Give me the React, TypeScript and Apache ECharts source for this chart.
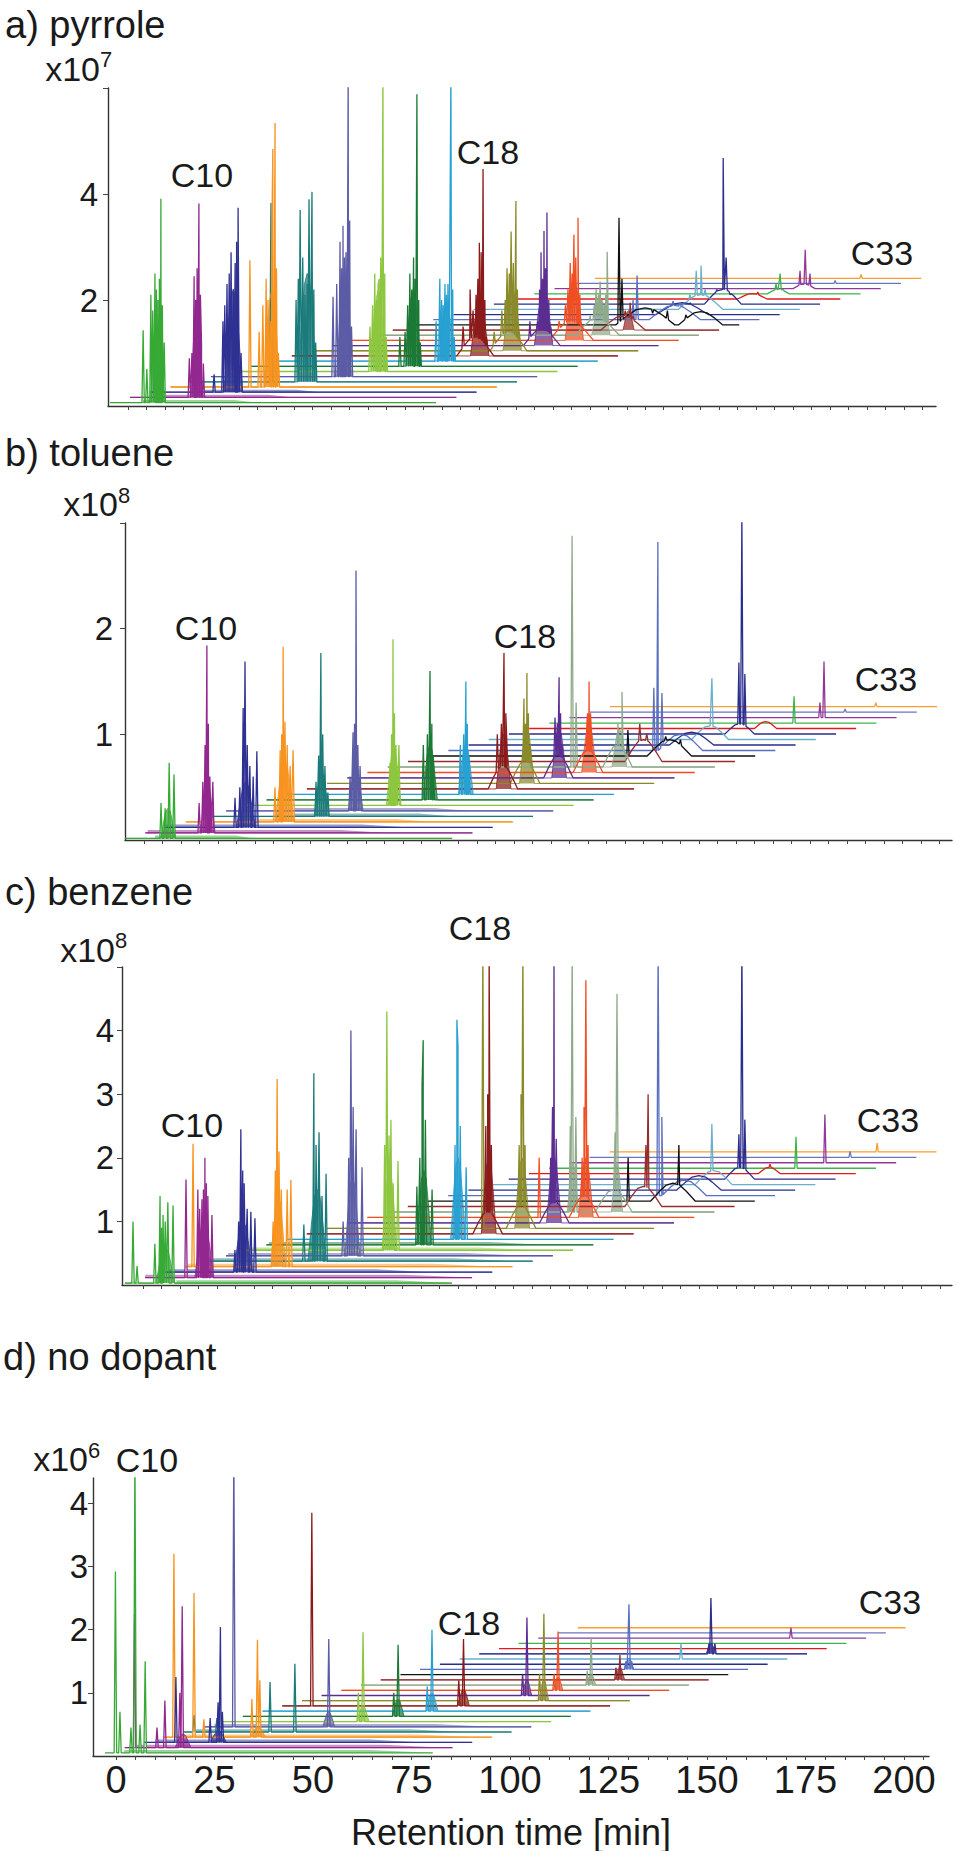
import React, { useEffect, useRef } from "react";
import * as echarts from "echarts";

// ---------- data ----------
const CARBON_LABELS = ["C9","C10","C11","C12","C13","C14","C15","C16","C17","C18","C19","C20","C21","C22","C23","C24","C25","C26","C27","C28","C29","C30","C31","C32","C33"];

const TRACE_COLORS = [
  "#37a935", "#92278f", "#2e3192", "#f7931e", "#1b7a7a", "#5b5ba6", "#8dc63f", "#1a7a35",
  "#27a0d2", "#8b1a1a", "#8a8a2a", "#5c2d91", "#f04e23", "#8faa8a", "#962d2d", "#111111",
  "#5a6fc0", "#262f8a", "#6ab0cc", "#2b2e8c", "#e31a1c", "#3cb54a", "#93379a", "#6c75c0", "#f7a030",
];

// waterfall offsets: [first trace start, start step, trace length, first baseline, baseline step]
const OFFSETS_A = [-4.9, 5.47, 88.3, 0.065, 0.0977];
const OFFSETS_B = [-5.1, 5.46, 88.4, 0.015, 0.052];
const OFFSETS_C = [-4.86, 5.45, 88.2, 0.03, 0.086];
const OFFSETS_D = [-2.8, 5.0, 83.2, 0.05, 0.0825];

// peaks: [trace index, retention time, peak top]
const PEAKS_A = [
  [0,4.1,1.43],[0,5.1,0.7],[0,6.2,2.1],[0,6.7,1.8],[0,7.3,2.5],[0,7.7,2.2],[0,8.1,2.0],[0,8.5,2.4],[0,8.9,3.91],[0,9.3,1.9],[0,9.8,1.2],
  [1,16.6,0.9],[1,17.3,1.0],[1,17.9,2.45],[1,18.3,2.0],[1,18.7,2.6],[1,19.2,3.82],[1,19.6,2.1],[1,19.9,1.2],[1,20.4,0.8],
  [2,23.3,0.6],[2,25.7,1.6],[2,26.2,1.9],[2,26.8,2.3],[2,27.4,2.5],[2,27.9,2.9],[2,28.5,2.2],[2,29.0,2.7],[2,29.4,3.1],[2,29.8,3.74],[2,30.6,1.0],
  [3,33.0,2.75],[3,35.5,1.4],[3,36.5,1.9],[3,37.4,2.4],[3,37.9,2.0],[3,38.5,1.6],[3,38.9,3.0],[3,39.2,4.85],[3,39.8,5.34],[3,40.2,2.6],[3,40.7,1.0],
  [4,38.7,3.83],[4,45.5,2.0],[4,46.1,2.4],[4,46.6,3.7],[4,47.3,2.8],[4,47.9,2.1],[4,48.5,2.3],[4,49.0,3.9],[4,49.8,4.04],[4,50.3,2.2],[4,50.8,1.2],
  [5,55.5,2.06],[5,56.5,2.3],[5,57.4,3.1],[5,57.8,2.6],[5,58.2,3.4],[5,58.6,2.8],[5,59.0,2.9],[5,59.6,6.3],[5,60.0,3.5],[5,60.5,1.5],
  [6,65.5,1.5],[6,66.2,1.9],[6,66.8,2.5],[6,67.3,2.0],[6,67.7,2.3],[6,68.0,2.4],[6,68.4,2.8],[6,69.0,6.3],[6,69.5,2.5],[6,69.9,1.3],
  [7,73.6,1.3],[7,75.0,1.4],[7,75.7,1.9],[7,76.3,2.5],[7,76.8,2.2],[7,77.3,2.8],[7,77.7,2.4],[7,78.2,5.88],[7,78.7,2.0],[7,79.1,1.2],
  [8,83.4,1.6],[8,84.4,2.4],[8,84.9,2.0],[8,85.3,1.9],[8,85.8,2.3],[8,86.2,2.1],[8,86.6,2.3],[8,87.4,6.3],[8,87.9,2.2],[8,88.3,1.3],
  [9,90.7,1.5],[9,92.6,2.2],[9,93.4,1.8],[9,94.2,2.1],[9,94.7,2.4],[9,95.1,3.08],[9,95.6,2.9],[9,96.1,4.47],[9,96.6,2.0],[9,97.0,1.3],
  [10,99.1,1.4],[10,101.2,1.8],[10,102.1,2.0],[10,102.6,2.6],[10,103.2,2.5],[10,103.7,3.29],[10,104.3,2.7],[10,105.0,3.87],[10,105.4,2.2],[10,105.9,1.4],
  [11,108.8,1.6],[11,111.0,1.6],[11,111.4,2.2],[11,111.8,2.9],[11,112.2,2.4],[11,112.6,3.3],[11,113.0,2.6],[11,113.4,3.65],[11,113.9,2.0],[11,114.4,1.5],
  [12,116.7,1.6],[12,118.4,1.9],[12,119.1,2.2],[12,119.7,2.7],[12,120.2,2.5],[12,120.7,3.23],[12,121.2,2.8],[12,121.8,3.55],[12,122.3,2.1],[12,122.8,1.5],
  [13,125.1,1.7],[13,126.2,1.9],[13,126.7,2.2],[13,127.3,2.1],[13,127.8,2.35],[13,128.3,2.0],[13,128.9,1.9],[13,129.3,2.1],[13,129.7,2.91],
  [14,134.6,1.8],[14,135.9,1.95],[14,136.7,1.7],
  [15,132.9,3.55],[15,133.7,2.4],[15,142.0,1.75],[15,146.0,1.8],[15,151.0,1.72],
  [16,136.7,2.0],[16,137.8,2.46],[16,147.5,1.98],[16,149.4,1.95],
  [17,152.1,1.95],
  [18,152.1,2.1],[18,153.8,2.55],[18,155.1,2.65],[18,156.2,2.2],
  [19,159.4,2.2],[19,161.1,4.68],[19,161.9,2.8],[19,163.0,2.1],
  [20,170.5,2.15],
  [21,175.4,2.3],[21,176.5,2.5],[21,177.3,2.2],
  [22,181.9,2.55],[22,183.3,2.95],[22,184.6,2.5],
  [23,191.4,2.37],
  [24,198.4,2.48],
];
// dense, unresolved peak clusters (filled in the trace colour): [trace, centre, top, half width]
const CLUSTERS_A = [
  [0,8.0,1.5,2],[1,18.6,2.0,1.5],[2,28.5,2.2,2.5],[3,39,2.2,2],[4,48.5,2.5,2.5],[5,58.5,2.6,2],
  [6,67.8,2.2,2],[7,77.2,2.2,2],[8,86.2,2.0,2],[9,95.2,2.0,2.5],[10,104,2.2,2.5],[11,112.5,2.2,2.5],
  [12,120.8,2.3,2.5],[13,128,2.0,2.5],[14,135.5,1.8,1.5],
];
// broad humps of the background (white underneath): [trace, centre, top, half width]
const HUMPS_A = [
  [9,94,1.3,5],[10,103,1.4,5],[11,112,1.45,5],[12,120,1.6,6],[13,127,1.65,6],[14,134,1.7,6],
  [15,140,1.85,8],[15,155,1.78,6],[16,148,1.9,7],[17,150,1.95,7],[18,155,2.1,6],[19,161,2.2,5],
  [20,169,2.12,4],[21,176,2.2,3],[22,183,2.3,3],
];
// noisy stretches of the baseline: [trace, from, to, noise top]
const NOISE_A = [[0,4,35,0.115],[1,10,45,0.21],[2,20,52,0.305]];

const PEAKS_B = [
  [0,4.6,0.35],[0,5.7,0.3],[0,6.8,0.73],[0,8.1,0.62],
  [1,14.9,0.35],[1,15.9,0.55],[1,16.5,0.9],[1,17.0,1.84],[1,17.4,1.1],[1,17.8,0.6],[1,18.6,0.55],
  [2,24.6,0.4],[2,25.9,0.5],[2,26.8,1.25],[2,27.3,1.69],[2,27.9,0.9],[2,28.6,0.7],[2,29.5,0.6],[2,30.5,0.84],
  [3,35.4,0.5],[3,36.8,0.85],[3,37.2,1.0],[3,37.6,1.83],[3,38.1,1.12],[3,38.7,0.9],[3,39.5,0.7],[3,40.3,0.85],
  [4,46.5,0.55],[4,47.2,0.8],[4,47.8,1.77],[4,48.3,1.0],[4,48.9,0.7],[4,49.7,0.45],
  [5,55.7,0.6],[5,56.5,1.02],[5,56.9,1.1],[5,57.3,2.55],[5,57.8,0.9],[5,58.4,0.7],
  [6,66.5,0.73],[6,66.9,1.0],[6,67.3,1.9],[6,67.7,1.2],[6,68.1,0.9],[6,68.9,0.9],
  [7,75.5,0.9],[7,76.6,1.0],[7,77.3,1.6],[7,77.8,1.1],[7,78.2,0.8],
  [8,85.5,0.9],[8,86.4,1.0],[8,87.0,1.5],[8,87.4,1.1],[8,87.8,0.8],
  [9,95.5,1.0],[9,96.6,1.1],[9,97.3,1.77],[9,97.8,1.2],[9,98.1,0.9],
  [10,102.7,1.34],[10,103.1,1.1],[10,103.5,1.58],[10,103.9,1.2],[10,104.3,0.9],
  [11,111.1,1.16],[11,111.7,1.1],[11,112.2,1.54],[11,112.6,1.2],[11,113.0,0.9],
  [12,119.7,1.1],[12,119.9,1.2],[12,120.3,1.5],[12,120.7,1.2],[12,121.0,0.95],
  [13,115.7,2.88],[13,116.8,1.3],[13,128.1,1.1],[13,129.2,1.4],
  [14,134.0,1.1],[14,135.9,1.01],
  [15,130.8,1.04],[15,141.0,0.98],[15,145.0,0.95],
  [16,137.8,1.44],[16,138.9,2.82],[16,140.0,1.39],
  [18,153.5,1.53],
  [19,160.8,1.68],[19,161.6,3.05],[19,162.4,1.57],
  [21,175.7,1.36],
  [22,182.7,1.3],[22,183.8,1.69],
  [23,189.5,1.24],
  [24,197.8,1.3],
];
const CLUSTERS_B = [
  [0,6.5,0.3,2],[1,17.2,0.5,2],[2,27.5,0.55,2.5],[3,38,0.75,2.5],[4,48,0.65,2],[5,57.2,0.7,2],
  [6,67.5,0.85,2],[7,77.3,0.9,2],[8,87,0.9,2],[9,97.2,1.0,2],[10,103.5,1.05,2],[11,112.2,1.05,2],
  [12,120.3,1.1,2],[13,128.5,1.05,2],
];
const HUMPS_B = [
  [9,97,0.7,4],[10,103,0.75,4],[11,112,0.8,4],[12,120,0.85,4],[13,128,0.9,4],[14,135,0.95,5],
  [15,142,0.95,6],[16,145,1.0,6],[17,148,1.02,6],[18,153,1.08,5],[19,161,1.1,4],[20,168,1.12,3],
];
const NOISE_B = [[0,3,30,0.042],[1,1,66,0.094],[2,6,72,0.146],[3,29,78,0.198],[4,35,84,0.25],[5,40,88,0.302]];

const PEAKS_C = [
  [0,-2.7,1.0],[0,-1.6,0.3],[0,3.2,0.65],[0,4.6,1.4],[0,5.0,0.9],[0,5.4,1.1],[0,6.0,1.0],[0,6.7,1.3],[0,8.1,1.25],
  [1,11.6,1.66],[1,14.8,1.5],[1,15.3,1.2],[1,15.9,1.35],[1,16.3,1.5],[1,16.7,2.0],[1,17.1,1.6],[1,17.5,1.4],[1,18.6,1.1],
  [2,24.8,0.55],[2,25.8,1.0],[2,26.4,2.45],[2,26.9,1.8],[2,27.3,1.6],[2,28.1,1.2],[2,29.1,1.15],[2,30.2,1.05],
  [3,13.5,2.22],[3,35.1,1.0],[3,35.7,1.8],[3,36.2,3.24],[3,36.7,2.1],[3,37.3,1.5],[3,38.9,1.5],[3,39.9,1.65],
  [4,43.4,0.95],[4,45.9,1.3],[4,46.1,3.33],[4,46.7,2.2],[4,47.5,2.4],[4,48.3,1.4],[4,49.4,1.75],
  [5,54.0,1.0],[5,55.5,2.0],[5,56.1,4.0],[5,56.7,2.8],[5,57.5,2.45],[5,59.1,1.85],
  [6,65.2,2.2],[6,65.8,4.3],[6,66.4,2.35],[6,66.9,2.6],[6,67.5,1.6],[6,68.8,1.95],
  [7,73.9,1.55],[7,74.7,2.0],[7,75.3,3.15],[7,75.6,3.85],[7,76.2,2.6],[7,78.0,1.5],
  [8,84.2,2.2],[8,84.7,4.17],[8,85.0,3.75],[8,85.6,2.5],[8,87.2,1.85],
  [9,92.5,2.5],[9,93.0,3.0],[9,93.4,5.3],[9,94.0,2.2],
  [10,91.7,5.3],[10,101.5,2.2],[10,102.0,3.0],[10,102.5,5.3],[10,103.1,2.2],
  [11,110.0,2.0],[11,110.5,2.8],[11,110.9,5.3],[11,111.5,2.3],
  [12,106.9,2.0],[12,118.5,2.0],[12,119.0,2.8],[12,119.5,4.79],[12,120.1,2.2],
  [13,115.3,2.5],[13,115.8,5.3],[13,116.8,2.64],[13,127.4,2.4],[13,127.9,4.58],
  [14,135.7,2.2],[14,136.3,3.0],
  [15,130.9,2.0],[15,144.6,2.2],
  [16,139.0,5.3],[16,140.0,2.64],
  [18,153.5,2.53],
  [19,160.8,2.37],[19,161.6,5.3],[19,162.4,2.6],
  [20,169.2,1.9],
  [21,176.2,2.33],
  [22,184.0,2.68],
  [23,190.8,2.1],
  [24,198.1,2.23],
];
const CLUSTERS_C = [
  [0,6,0.6,2.5],[1,16.5,1.0,2.5],[2,27,1.0,2.5],[3,36.5,1.4,2],[4,47,1.5,2.5],[5,56.5,1.7,2],
  [6,66.5,1.8,2],[7,75.8,1.8,2],[8,85,2.0,2],[9,93.3,2.0,2],[10,102.3,2.0,2],[11,110.9,2.0,2],
  [12,119.5,2.0,2],[13,116,1.9,1.5],[13,127.9,1.9,1.5],
];
const HUMPS_C = [
  [9,93,1.15,4],[10,102,1.25,4],[11,111,1.3,4],[12,119,1.4,4],[13,127,1.5,5],
  [14,135,1.55,5],[15,143,1.6,6],[16,146,1.65,6],[17,150,1.72,6],[18,154,1.8,5],[19,161,1.85,4],
  [20,169,1.85,3],
];
const NOISE_C = [[0,9,83,0.075],[1,0,88,0.161],[2,5,77,0.247],[3,12,95,0.333],[4,17,100,0.419],[5,23,103,0.505],[6,28,106,0.591],[7,34,108,0.677]];

const PEAKS_D = [
  [0,-0.15,2.92],[0,1.0,0.7],[0,3.8,0.45],[0,4.8,4.9],[0,6.1,0.5],[0,7.4,1.5],
  [1,4.7,2.25],[1,10.4,0.45],[1,12.4,0.88],[1,16.2,1.0],[1,16.8,2.37],
  [2,15.2,1.25],[2,23.9,0.6],[2,25.9,0.85],[2,26.5,2.04],[2,27.0,0.7],
  [3,14.7,3.2],[3,19.8,2.58],[3,22.3,0.58],[3,34.5,0.9],[3,35.9,1.84],[3,36.5,1.2],
  [4,19.8,0.65],[4,25.6,0.6],[4,39.1,1.17],[4,45.4,1.46],
  [5,29.9,4.9],[5,54.0,1.85],
  [6,61.5,1.0],[6,62.7,1.96],
  [7,70.5,1.0],[7,71.6,1.76],
  [8,79.0,1.1],[8,80.2,2.0],
  [9,49.7,3.85],[9,87.0,1.2],[9,88.2,1.85],
  [10,107.5,1.3],[10,108.6,2.25],
  [11,103.2,1.3],[11,104.3,2.19],
  [12,111.2,1.3],[12,112.2,1.97],
  [13,119.6,1.35],[13,120.6,1.88],
  [14,126.9,1.4],[14,127.9,1.6],
  [16,129.4,1.5],[16,130.2,2.4],[16,130.9,1.5],
  [18,143.4,1.78],
  [19,150.5,1.78],[19,151.0,2.5],[19,152.0,1.78],
  [22,171.3,2.03],
];
const CLUSTERS_D = [
  [1,17,0.35,2],[2,26,0.4,2],[3,36,0.45,2],[5,54,0.7,1.5],[6,62.7,0.8,1.5],[7,71.6,0.9,1.5],
  [8,80.2,1.0,1.5],[9,88.2,1.05,1.5],[10,108.6,1.2,1.2],[11,104.3,1.2,1.2],[12,112.2,1.25,1.2],
  [13,120.6,1.3,1.2],[14,127.9,1.4,1.2],[16,130.2,1.55,1.2],[19,151,1.78,1.2],
];
const HUMPS_D: number[][] = [];
const NOISE_D = [[0,2,80,0.095],[1,5,84,0.177],[2,10,78,0.26],[3,15,92,0.342],[4,20,88,0.425],[5,25,95,0.507]];

// axis ticks and labels
const X_TICKS_ABC = [0,5,10,15,20,25,30,35,40,45,50,55,60,65,70,75,80,85,90,95,100,105,110,115,120,125,130,135,140,145,150,155,160,165,170,175,180,185,190,195,200,205,210,215];
const X_TICKS_D = [0,5,10,15,20,25,30,35,40,45,50,55,60,65,70,75,80,85,90,95,100,105,110,115,120,125,130,135,140,145,150,155,160,165,170,175,180,185,190,195,200,205];
const X_LABELS_D = [0,25,50,75,100,125,150,175,200];
const Y_TICKS_A = [2,4,6];
const Y_LABELS_A = [2,4];
const Y_TICKS_B = [1,2,3];
const Y_LABELS_B = [1,2];
const Y_TICKS_C = [1,2,3,4,5];
const Y_LABELS_C = [1,2,3,4];
const Y_TICKS_D = [1,2,3,4];
const Y_LABELS_D = [1,2,3,4];

const PANEL_TITLES = ["a) pyrrole", "b) toluene", "c) benzene", "d) no dopant"];
const EXPONENTS = ["7", "8", "8", "6"];
const X_AXIS_NAME = "Retention time [min]";

// ---------- chart ----------
const FONT = "'Liberation Sans', Arial, Helvetica, sans-serif";
const INK = "#1a1a1a";
const SPIKE_HALF_WIDTH = 0.32;
// relative hump profile (distance / half width -> fraction of height)
const HUMP_PROFILE = [[0, 1], [0.3, 0.9], [0.6, 0.55], [1, 0]];

type Panel = {
  grid: { left: number; top: number; width: number; height: number };
  xMin: number; xMax: number; yMax: number;
  xTicks: number[]; xLabels: number[];
  yTicks: number[]; yLabels: number[]; yLabelMargin: number;
  offs: number[]; peaks: number[][]; humps: number[][]; clusters: number[][]; noise: number[][];
};

const PANELS: Panel[] = [
  { grid: { left: 108, top: 88, width: 828, height: 318 }, xMin: -5.41, xMax: 218.7, yMax: 6,
    xTicks: X_TICKS_ABC, xLabels: [], yTicks: Y_TICKS_A, yLabels: Y_LABELS_A, yLabelMargin: 10,
    offs: OFFSETS_A, peaks: PEAKS_A, humps: HUMPS_A, clusters: CLUSTERS_A, noise: NOISE_A },
  { grid: { left: 125, top: 523, width: 827, height: 317 }, xMin: -5.14, xMax: 218.4, yMax: 3,
    xTicks: X_TICKS_ABC, xLabels: [], yTicks: Y_TICKS_B, yLabels: Y_LABELS_B, yLabelMargin: 12,
    offs: OFFSETS_B, peaks: PEAKS_B, humps: HUMPS_B, clusters: CLUSTERS_B, noise: NOISE_B },
  { grid: { left: 122, top: 967, width: 830, height: 318 }, xMin: -5.67, xMax: 218.3, yMax: 5,
    xTicks: X_TICKS_ABC, xLabels: [], yTicks: Y_TICKS_C, yLabels: Y_LABELS_C, yLabelMargin: 8,
    offs: OFFSETS_C, peaks: PEAKS_C, humps: HUMPS_C, clusters: CLUSTERS_C, noise: NOISE_C },
  { grid: { left: 93, top: 1478, width: 836, height: 282 }, xMin: -5.84, xMax: 206.35, yMax: 4.4,
    xTicks: X_TICKS_D, xLabels: X_LABELS_D, yTicks: Y_TICKS_D, yLabels: Y_LABELS_D, yLabelMargin: 5,
    offs: OFFSETS_D, peaks: PEAKS_D, humps: HUMPS_D, clusters: CLUSTERS_D, noise: NOISE_D },
];

function humpFraction(r: number) {
  for (let k = 1; k < HUMP_PROFILE.length; k++) {
    const [r0, f0] = HUMP_PROFILE[k - 1];
    const [r1, f1] = HUMP_PROFILE[k];
    if (r <= r1) return f0 + ((r - r0) / (r1 - r0)) * (f1 - f0);
  }
  return 0;
}

function traceBase(i: number, p: Panel) {
  return p.offs[3] + i * p.offs[4];
}

type Pt = { x: number; y: number; o: number };

// outline of a trace: baseline, broad humps and (optionally) spikes
function buildOutline(i: number, p: Panel, humpList: number[][], peakList: number[][]): number[][] {
  const [x0, dx, len] = p.offs;
  const start = x0 + i * dx;
  const end = start + len;
  const base = traceBase(i, p);
  const humps = humpList.filter((h) => h[0] === i);
  const peaks = peakList.filter((k) => k[0] === i && k[1] > start && k[1] < end);
  const hAt = (x: number) => {
    let s = 0;
    for (const h of humps) {
      const r = Math.abs(x - h[1]) / h[3];
      if (r < 1) s = Math.max(s, (h[2] - base) * humpFraction(r));
    }
    return base + s;
  };
  const pts: Pt[] = [];
  let o = 0;
  pts.push({ x: start, y: base, o: o++ });
  for (const h of humps) {
    for (const [r] of HUMP_PROFILE) {
      for (const x of [h[1] - r * h[3], h[1] + r * h[3]]) {
        if (x > start && x < end) pts.push({ x, y: hAt(x), o: o++ });
      }
    }
  }
  for (const k of peaks) {
    const xl = k[1] - SPIKE_HALF_WIDTH;
    const xr = k[1] + SPIKE_HALF_WIDTH;
    pts.push({ x: xl, y: hAt(xl), o: o++ });
    pts.push({ x: k[1], y: k[2], o: o++ });
    pts.push({ x: xr, y: hAt(xr), o: o++ });
  }
  pts.push({ x: end, y: base, o: o++ });
  pts.sort((a, b) => (a.x - b.x) || (a.o - b.o));
  return pts.map((q) => [q.x, q.y]);
}

// a noisy stretch of baseline, drawn as a thin band that thins out at its right end
function buildNoise(i: number, p: Panel): number[][] | null {
  const band = p.noise.find((n) => n[0] === i);
  if (!band) return null;
  const [x0, dx, len] = p.offs;
  const start = x0 + i * dx;
  const end = start + len;
  const base = traceBase(i, p);
  const a = Math.max(start, band[1]);
  const b = Math.min(end, band[2]);
  const fade = a + (b - a) * 0.8;
  return [[a, base], [a, band[3]], [fade, band[3]], [b, base]];
}

function buildOption() {
  const grids: any[] = [];
  const xAxes: any[] = [];
  const yAxes: any[] = [];
  const series: any[] = [];
  PANELS.forEach((p, pi) => {
    grids.push({ ...p.grid, containLabel: false });
    xAxes.push({
      type: "value", gridIndex: pi, min: p.xMin, max: p.xMax,
      axisLine: { show: true, onZero: false, lineStyle: { color: "#333", width: 1.4 } },
      axisTick: { show: true, customValues: p.xTicks, length: 4, lineStyle: { color: "#444", width: 1 } },
      axisLabel: {
        show: p.xLabels.length > 0, customValues: p.xLabels, fontSize: 38, color: INK,
        fontFamily: FONT, margin: 5,
      },
      splitLine: { show: false },
      name: pi === 3 ? X_AXIS_NAME : "",
      nameLocation: "middle", nameGap: 58,
      nameTextStyle: { fontSize: 36, color: INK, fontFamily: FONT },
    });
    yAxes.push({
      type: "value", gridIndex: pi, min: 0, max: p.yMax,
      axisLine: { show: true, onZero: false, lineStyle: { color: "#333", width: 1.4 } },
      axisTick: { show: true, customValues: p.yTicks, length: 5, lineStyle: { color: "#444", width: 1 } },
      axisLabel: { show: true, customValues: p.yLabels, fontSize: 33, color: INK, fontFamily: FONT, margin: p.yLabelMargin },
      splitLine: { show: false },
    });
    // back traces first, so that the front traces hide what lies behind their humps
    for (let i = CARBON_LABELS.length - 1; i >= 0; i--) {
      const base = traceBase(i, p);
      const common = {
        type: "line", xAxisIndex: pi, yAxisIndex: pi, showSymbol: false, symbol: "none",
        silent: true, clip: true, emphasis: { disabled: true },
      };
      series.push({
        ...common, name: `${PANEL_TITLES[pi]} ${CARBON_LABELS[i]}`,
        data: buildOutline(i, p, p.humps, p.peaks),
        lineStyle: { color: TRACE_COLORS[i], width: 1.3 },
        areaStyle: { color: "#ffffff", opacity: 1, origin: base },
      });
      const noise = buildNoise(i, p);
      if (noise) {
        series.push({
          ...common, name: `${PANEL_TITLES[pi]} ${CARBON_LABELS[i]} noise`,
          data: noise,
          lineStyle: { width: 0, opacity: 0 },
          areaStyle: { color: TRACE_COLORS[i], opacity: 0.5, origin: base },
        });
      }
      if (p.clusters.some((c) => c[0] === i)) {
        series.push({
          ...common, name: `${PANEL_TITLES[pi]} ${CARBON_LABELS[i]} cluster`,
          data: buildOutline(i, p, p.clusters, []),
          lineStyle: { color: TRACE_COLORS[i], width: 0.8 },
          areaStyle: { color: TRACE_COLORS[i], opacity: 0.72, origin: base },
        });
      }
    }
  });

  const txt = (text: string, x: number, y: number, size: number, align = "left", vAlign = "middle") => ({
    type: "text", silent: true, z: 100,
    style: {
      text, x, y, fontSize: size, fontFamily: FONT, fill: INK,
      textAlign: align, textVerticalAlign: vAlign, align, verticalAlign: vAlign,
    },
  });

  const graphic: any[] = [
    txt(PANEL_TITLES[0], 5, 25, 38),
    txt(PANEL_TITLES[1], 5, 453, 38),
    txt(PANEL_TITLES[2], 5, 892, 38),
    txt(PANEL_TITLES[3], 3, 1357, 38),
    txt("x10", 100, 69, 34, "right"), txt(EXPONENTS[0], 100, 59, 22),
    txt("x10", 118, 504, 34, "right"), txt(EXPONENTS[1], 118, 495, 22),
    txt("x10", 115, 950, 34, "right"), txt(EXPONENTS[2], 115, 940, 22),
    txt("x10", 88, 1459, 34, "right"), txt(EXPONENTS[3], 88, 1450, 22),
    txt(CARBON_LABELS[1], 202, 175, 34, "center"),
    txt(CARBON_LABELS[9], 488, 152, 34, "center"),
    txt(CARBON_LABELS[24], 882, 253, 34, "center"),
    txt(CARBON_LABELS[1], 206, 628, 34, "center"),
    txt(CARBON_LABELS[9], 525, 636, 34, "center"),
    txt(CARBON_LABELS[24], 886, 679, 34, "center"),
    txt(CARBON_LABELS[1], 192, 1125, 34, "center"),
    txt(CARBON_LABELS[9], 480, 928, 34, "center"),
    txt(CARBON_LABELS[24], 888, 1120, 34, "center"),
    txt(CARBON_LABELS[1], 147, 1460, 34, "center"),
    txt(CARBON_LABELS[9], 469, 1623, 34, "center"),
    txt(CARBON_LABELS[24], 890, 1602, 34, "center"),
  ];

  return {
    animation: false,
    backgroundColor: "#ffffff",
    grid: grids,
    xAxis: xAxes,
    yAxis: yAxes,
    series,
    graphic,
  };
}

export default function App() {
  const ref = useRef<HTMLDivElement>(null);
  useEffect(() => {
    if (!ref.current) return;
    const chart = echarts.init(ref.current, undefined, { renderer: "svg" });
    chart.setOption(buildOption() as any);
    return () => chart.dispose();
  }, []);
  return (
    <div
      ref={ref}
      style={{ position: "absolute", left: 0, top: 0, width: 956, height: 1851, background: "#fff" }}
    />
  );
}
